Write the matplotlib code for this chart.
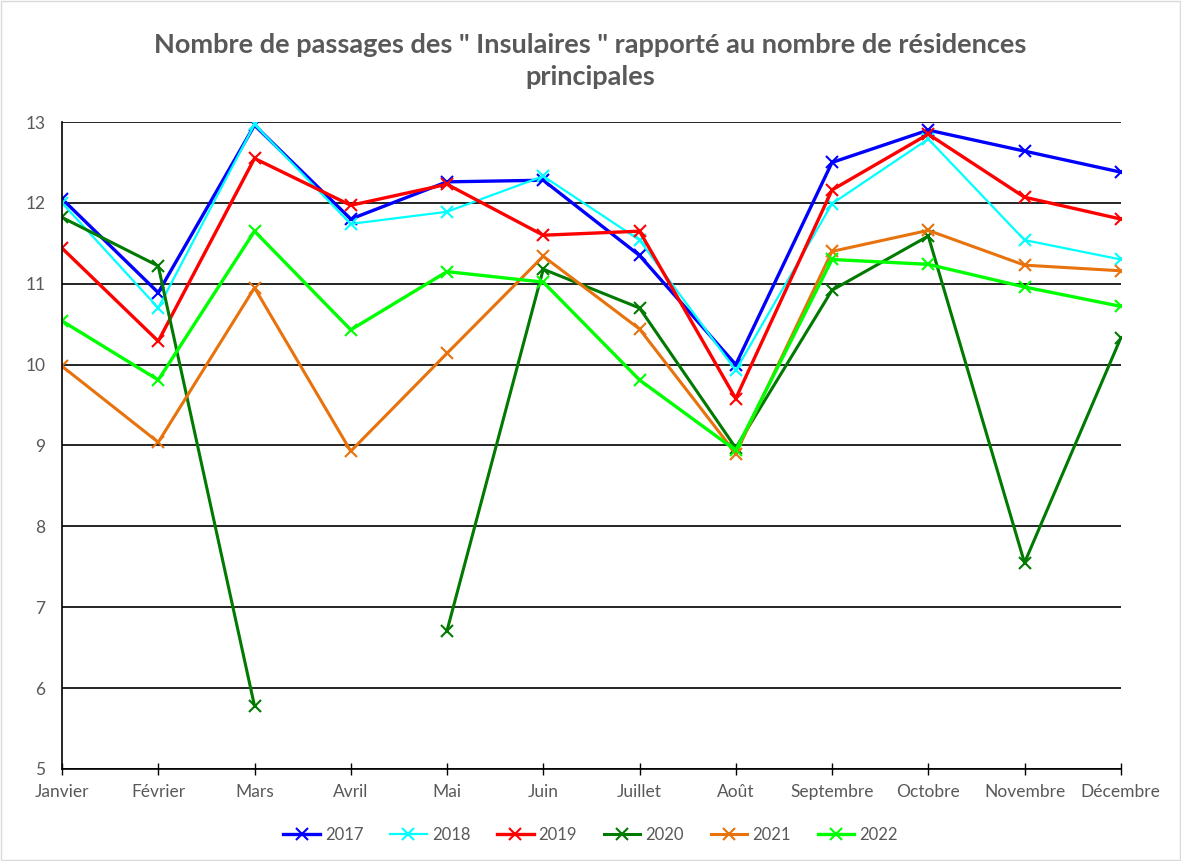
import matplotlib
matplotlib.use('Agg')
import matplotlib.pyplot as plt
from matplotlib.patches import Rectangle
import numpy as np

mois = ["Janvier", "Février", "Mars", "Avril", "Mai", "Juin", "Juillet",
        "Août", "Septembre", "Octobre", "Novembre", "Décembre"]

v2017 = [12.05, 10.89, 12.96, 11.80, 12.26, 12.28, 11.35, 10.00, 12.50, 12.90, 12.64, 12.38]
v2018 = [12.00, 10.70, 12.97, 11.74, 11.89, 12.33, 11.54, 9.93, 11.99, 12.79, 11.54, 11.30]
v2019 = [11.44, 10.29, 12.55, 11.97, 12.23, 11.60, 11.65, 9.58, 12.16, 12.85, 12.07, 11.80]
v2020 = [11.82, 11.22, 5.78, np.nan, 6.71, 11.18, 10.70, 8.97, 10.92, 11.59, 7.55, 10.33]
v2021 = [9.98, 9.04, 10.95, 8.93, 10.14, 11.34, 10.44, 8.90, 11.40, 11.66, 11.23, 11.16]
v2022 = [10.54, 9.81, 11.65, 10.43, 11.15, 11.02, 9.81, 8.94, 11.30, 11.24, 10.96, 10.72]

series = [
    ("2017", v2017, "#0000ff", 2.4),
    ("2018", v2018, "#00ffff", 1.6),
    ("2019", v2019, "#ff0000", 2.4),
    ("2020", v2020, "#007a00", 2.2),
    ("2021", v2021, "#e8720c", 2.2),
    ("2022", v2022, "#00ff00", 2.4),
]

plt.rcParams['font.family'] = ['Lato', 'DejaVu Sans']

fig = plt.figure(figsize=(11.81, 8.61), dpi=100)
ax = fig.add_axes([0.0525, 0.1069, 0.8965, 0.7514])

x = np.arange(len(mois))
for label, vals, color, lw in series:
    ax.plot(x, vals, color=color, linewidth=lw, marker='x', markersize=9,
            markeredgewidth=1.5, label=label)

ax.set_xlim(0, len(mois) - 1)
ax.set_ylim(5, 13)
ax.set_yticks(range(5, 14))
ax.set_xticks(x)
ax.set_xticklabels(mois)
ax.yaxis.grid(True, color='black', linewidth=1.2)
ax.set_axisbelow(True)
for s in ['top', 'right']:
    ax.spines[s].set_visible(False)
for s in ['left', 'bottom']:
    ax.spines[s].set_color('black')
    ax.spines[s].set_linewidth(1.2)
ax.tick_params(axis='y', length=0, pad=12, labelsize=12.5, labelcolor='#595959')
ax.tick_params(axis='x', direction='inout', length=9, width=1, pad=6,
               labelsize=12.5, labelcolor='#595959')

fig.suptitle("Nombre de passages des \" Insulaires \" rapporté au nombre de résidences\nprincipales",
             y=0.962, fontsize=19.5, fontweight='bold', color='#595959', linespacing=1.4)

fig.legend(loc='center', bbox_to_anchor=(0.5, 0.03), ncol=6, frameon=False,
           fontsize=12, labelcolor='#595959', handlelength=2.2, handletextpad=0.3,
           columnspacing=1.6)

fig.patches.append(Rectangle((0.001, 0.001), 0.998, 0.998, transform=fig.transFigure,
                             fill=False, edgecolor='#d9d9d9', linewidth=1))

fig.savefig('out.png', dpi=100)
